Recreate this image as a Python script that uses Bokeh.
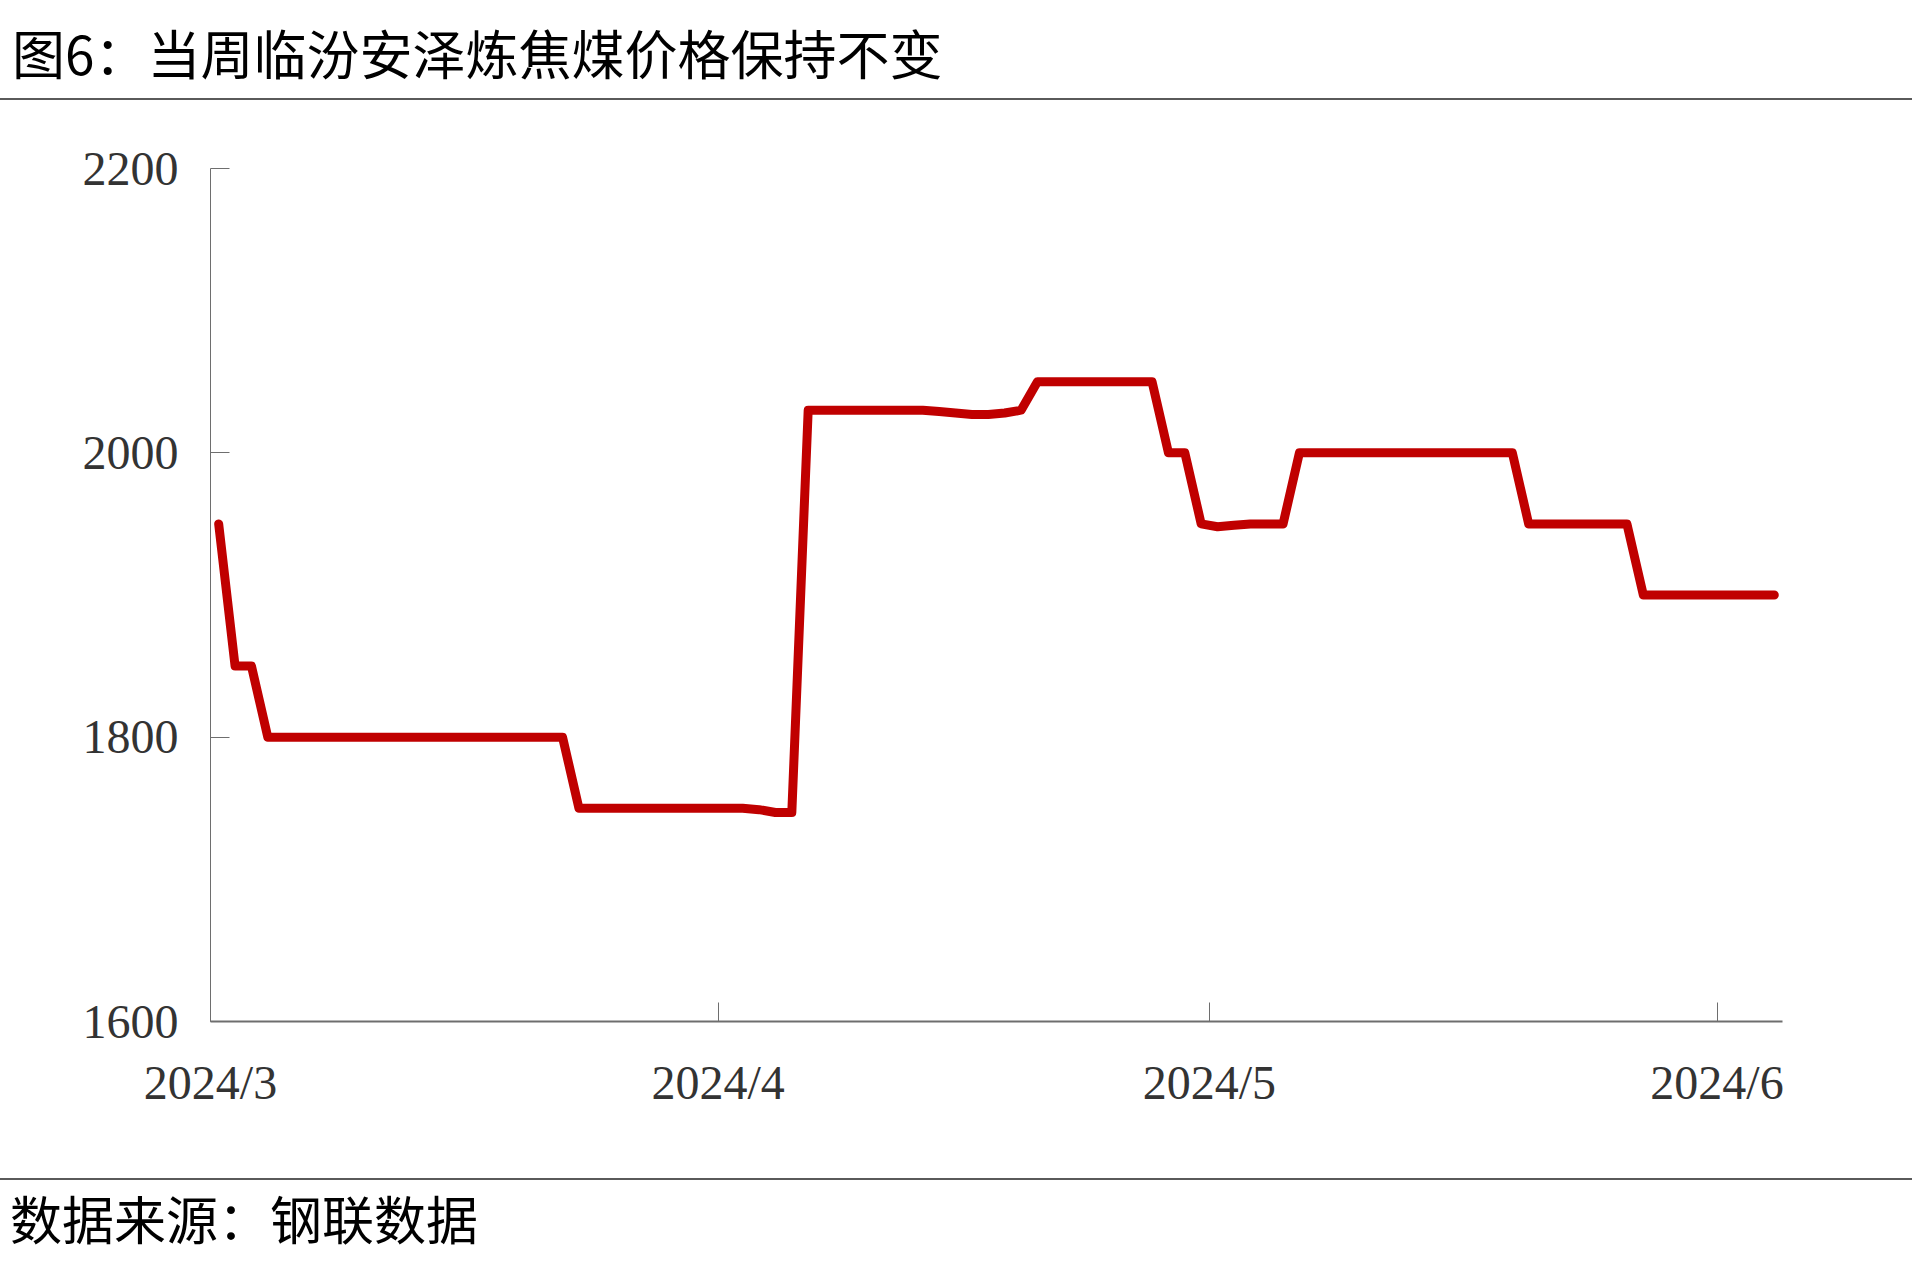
import pandas as pd
from bokeh.plotting import figure
from bokeh.layouts import column
from bokeh.models import (Range1d, FixedTicker, CustomJSTickFormatter, Div,
                          ColumnDataSource)
from bokeh.embed import file_html
from bokeh.resources import INLINE

# ---------------- data ----------------
title_text = "图6：当周临汾安泽炼焦煤价格保持不变"
source_text = "数据来源：钢联数据"
first_day = "2024-03-01"
last_day = "2024-06-04"
x_start = "2024-03-01"
x_end = "2024-06-05"
month_ticks = ["2024-03-01", "2024-04-01", "2024-05-01", "2024-06-01"]
y_ticks = [1600, 1800, 2000, 2200]

# daily price, 2024-03-01 .. 2024-06-04 (元/吨)
price = [
    1950, 1850, 1850, 1800, 1800, 1800, 1800, 1800, 1800, 1800,   # Mar 1-10
    1800, 1800, 1800, 1800, 1800, 1800, 1800, 1800, 1800, 1800,   # Mar 11-20
    1800, 1800, 1750, 1750, 1750, 1750, 1750, 1750, 1750, 1750,   # Mar 21-30
    1750,                                                         # Mar 31
    1750, 1750, 1749, 1747, 1747, 2030, 2030, 2030, 2030, 2030,   # Apr 1-10
    2030, 2030, 2030, 2029, 2028, 2027, 2027, 2028, 2030, 2050,   # Apr 11-20
    2050, 2050, 2050, 2050, 2050, 2050, 2050, 2000, 2000, 1950,   # Apr 21-30
    1948, 1949, 1950, 1950, 1950, 2000, 2000, 2000, 2000, 2000,   # May 1-10
    2000, 2000, 2000, 2000, 2000, 2000, 2000, 2000, 2000, 1950,   # May 11-20
    1950, 1950, 1950, 1950, 1950, 1950, 1900, 1900, 1900, 1900,   # May 21-30
    1900,                                                         # May 31
    1900, 1900, 1900, 1900,                                       # Jun 1-4
]

dates = pd.date_range(first_day, last_day, freq="D")
# points sit in the middle of each day on the date axis
src = ColumnDataSource(dict(x=dates + pd.Timedelta(hours=12), y=price))

W = 1904
DIV_W = 1912

# ---------------- title strip ----------------
top = Div(text=title_text, width=DIV_W, height=100, margin=0,
          styles={"font-family": "'Noto Sans CJK SC'", "font-size": "53px",
                  "color": "#000000", "line-height": "104px",
                  "padding-left": "12px", "box-sizing": "border-box",
                  "border-bottom": "2.5px solid #5a5a5a", "white-space": "nowrap",
                  "overflow": "hidden"})

# ---------------- main chart ----------------
ms = lambda s: pd.Timestamp(s).value / 1e6
p = figure(width=W, height=1078, x_axis_type="datetime",
           x_range=Range1d(pd.Timestamp(x_start), pd.Timestamp(x_end)),
           y_range=Range1d(1600, 2200),
           output_backend="svg", toolbar_location=None,
           min_border_left=210, min_border_right=122,
           min_border_top=68, min_border_bottom=157,
           outline_line_color=None, margin=0)
p.grid.visible = False

p.line("x", "y", source=src, line_color="#C00000", line_width=9,
       line_join="round", line_cap="round")

p.xaxis.ticker = FixedTicker(ticks=[ms(t) for t in month_ticks])
p.xaxis.formatter = CustomJSTickFormatter(code="""
    const d = new Date(tick);
    return d.getUTCFullYear() + "/" + (d.getUTCMonth() + 1);
""")
p.yaxis.ticker = FixedTicker(ticks=y_ticks)

for ax in (p.xaxis[0], p.yaxis[0]):
    ax.major_tick_in = 19
    ax.major_tick_out = 0
    ax.minor_tick_in = 0
    ax.minor_tick_out = 0
    ax.axis_line_color = "#6e6e6e"
    ax.major_tick_line_color = "#6e6e6e"
    ax.major_tick_line_width = 1
    ax.major_label_text_font = "Liberation Serif"
    ax.major_label_text_font_size = "48px"
    ax.major_label_text_color = "#333333"
p.xaxis.axis_line_width = 2
p.yaxis.axis_line_width = 1
p.xaxis.major_label_standoff = 34
p.yaxis.major_label_standoff = 32

# ---------------- source strip ----------------
bot = Div(text=source_text, width=DIV_W, height=85, margin=0,
          styles={"font-family": "'Noto Sans CJK SC'", "font-size": "52px",
                  "color": "#000000", "line-height": "76px",
                  "padding-left": "10px", "box-sizing": "border-box",
                  "border-top": "2.5px solid #5a5a5a", "white-space": "nowrap",
                  "overflow": "hidden"})

layout = column(top, p, bot)
open("out.html", "w").write(file_html(layout, INLINE))
